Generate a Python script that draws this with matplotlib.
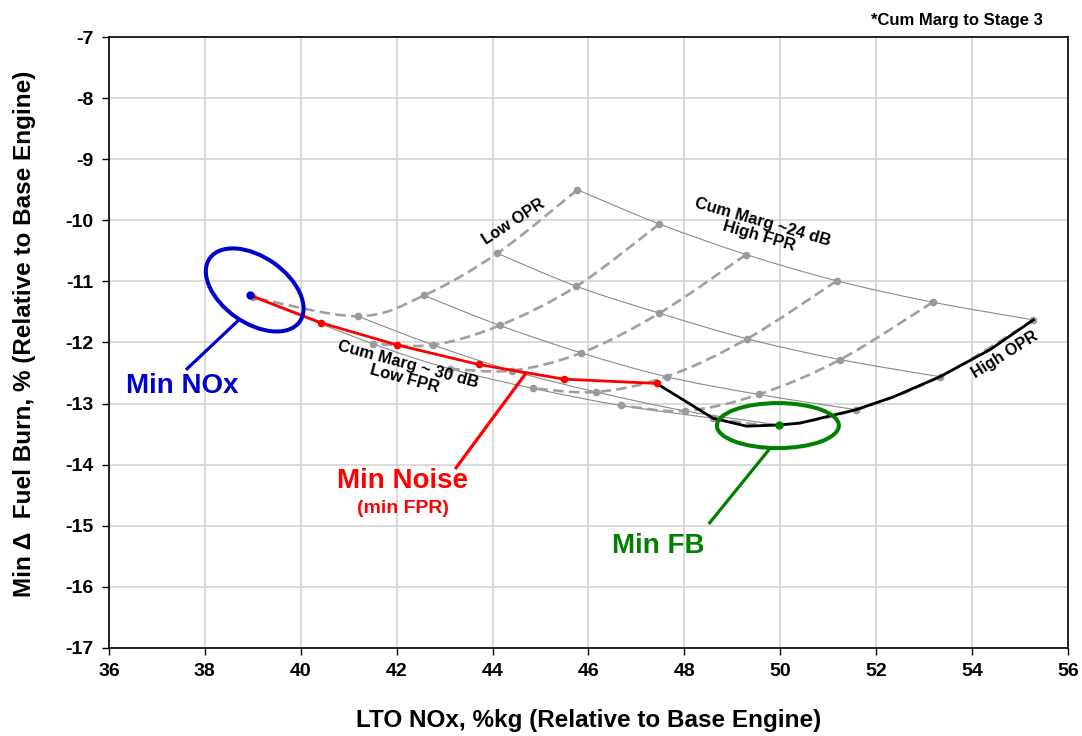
import numpy as np
import matplotlib
matplotlib.use("Agg")
import matplotlib.pyplot as plt
from matplotlib.path import Path
from matplotlib.patches import PathPatch, Ellipse
import matplotlib.transforms as mtransforms

plt.rcParams['font.family'] = ['Liberation Sans', 'DejaVu Sans']
plt.rcParams['font.weight'] = 'bold'
plt.rcParams['axes.unicode_minus'] = False

# carpet grid: rows = FPR level (high -> low), columns = OPR level (low -> high)
nox_grid = [
    [45.77, 47.48, 49.29, 51.18, 53.18, 55.28],
    [44.10, 45.75, 47.48, 49.31, 51.25, 53.33],
    [42.57, 44.15, 45.85, 47.63, 49.55, 51.58],
    [41.19, 42.76, 44.40, 46.16, 48.02, 49.97],
    [39.00, 41.50, 43.11, 44.84, 46.67, 48.60],
]
fb_grid = [
    [-9.50, -10.06, -10.56, -10.99, -11.34, -11.63],
    [-10.54, -11.08, -11.52, -11.94, -12.28, -12.56],
    [-11.23, -11.72, -12.17, -12.56, -12.85, -13.10],
    [-11.57, -12.04, -12.46, -12.81, -13.12, -13.35],
    [-11.26, -12.02, -12.43, -12.75, -13.03, -13.24],
]

# min noise path (red) and min fuel burn path (black)
noise_nox = [38.95, 40.43, 42.01, 43.71, 45.49, 47.42]
noise_fb = [-11.23, -11.68, -12.04, -12.36, -12.60, -12.67]
fb_nox = [47.42, 48.60, 49.30, 49.97, 50.41, 51.58, 52.36, 53.33, 54.37, 55.28]
fb_fb = [-12.67, -13.24, -13.37, -13.35, -13.32, -13.10, -12.89, -12.56, -12.12, -11.63]

min_nox_pt = (38.95, -11.23)
min_fb_pt = (49.97, -13.35)

xticks = np.arange(36, 57, 2)
yticks = np.arange(-17, -6, 1)


def smooth_path(xs, ys):
    pts = np.column_stack([xs, ys])
    n = len(pts)
    verts = [pts[0]]
    codes = [Path.MOVETO]
    for i in range(n - 1):
        p0 = pts[i - 1] if i > 0 else pts[i]
        p1, p2 = pts[i], pts[i + 1]
        p3 = pts[i + 2] if i + 2 < n else pts[i + 1]
        verts += [p1 + (p2 - p0) / 6, p2 - (p3 - p1) / 6, p2]
        codes += [Path.CURVE4] * 3
    return Path(verts, codes)


fig = plt.figure(figsize=(10.82, 7.36), dpi=100)
ax = fig.add_axes([0.1007, 0.1196, 0.8863, 0.8301])
ax.set_xlim(36, 56)
ax.set_ylim(-17, -7)
ax.set_xticks(xticks)
ax.set_yticks(yticks)
ax.grid(True, color='#d4d4d4', lw=1.2)
ax.set_axisbelow(True)
for s in ax.spines.values():
    s.set_color('black')
    s.set_linewidth(1.2)
ax.tick_params(direction='out', length=5, width=1, labelsize=14, pad=6)
for lab in ax.get_xticklabels() + ax.get_yticklabels():
    lab.set_fontweight('bold')

nox = np.array(nox_grid)
fb = np.array(fb_grid)
# constant FPR lines (thin solid)
for i in range(nox.shape[0]):
    ax.add_patch(PathPatch(smooth_path(nox[i], fb[i]), fill=False,
                           edgecolor='#8a8a8a', lw=0.8, zorder=2))
# constant OPR lines (dashed)
for j in range(nox.shape[1]):
    ax.add_patch(PathPatch(smooth_path(nox[:, j], fb[:, j]), fill=False,
                           edgecolor='#a0a0a0', lw=1.9, linestyle=(0, (4, 2)),
                           zorder=2))
ax.plot(nox.ravel(), fb.ravel(), 'o', color='#9a9a9a', ms=5.5, mec='none', zorder=3)

ax.plot(fb_nox, fb_fb, '-', color='black', lw=2.0, zorder=4)
ax.plot(noise_nox, noise_fb, '-', color='red', lw=2.0, zorder=5)
ax.plot(noise_nox[1:], noise_fb[1:], 'o', color='red', ms=5.5, mec='none', zorder=6)
ax.plot(*min_nox_pt, 'o', color='#0000cc', ms=6, mec='none', zorder=7)
ax.plot(*min_fb_pt, 'o', color='#008000', ms=6, mec='none', zorder=7)

# ellipses sized in inches around a data point
def pixel_ellipse(center, w, h, angle, color):
    tr = fig.dpi_scale_trans + mtransforms.ScaledTranslation(center[0], center[1], ax.transData)
    e = Ellipse((0, 0), w, h, angle=angle, fill=False, edgecolor=color, lw=2.9,
                transform=tr, zorder=8, clip_on=False)
    ax.add_patch(e)

pixel_ellipse((39.04, -11.14), 1.10, 0.66, -35, '#0000cc')
pixel_ellipse((49.95, -13.36), 1.22, 0.45, 0, '#008000')

# leaders and callouts
ax.plot([38.67, 37.63], [-11.66, -12.43], color='#0000cc', lw=2.3, zorder=8)
ax.text(37.52, -12.72, 'Min NOx', color='#0000cc', fontsize=20, fontweight='bold',
        ha='center', va='center')
ax.plot([44.68, 43.24], [-12.52, -14.05], color='red', lw=2.3, zorder=8)
ax.text(42.13, -14.27, 'Min Noise', color='red', fontsize=20, fontweight='bold',
        ha='center', va='center')
ax.text(42.13, -14.72, '(min FPR)', color='red', fontsize=14, fontweight='bold',
        ha='center', va='center')
ax.plot([49.79, 48.53], [-13.73, -14.95], color='#008000', lw=2.3, zorder=8)
ax.text(47.45, -15.33, 'Min FB', color='#008000', fontsize=20, fontweight='bold',
        ha='center', va='center')

ax.text(44.43, -10.03, 'Low OPR', fontsize=11.5, fontweight='bold', rotation=33,
        ha='center', va='center', rotation_mode='anchor')
ax.text(49.6, -10.15, 'Cum Marg ~24 dB\nHigh FPR', fontsize=12, fontweight='bold',
        rotation=-16, ha='center', va='center', multialignment='center',
        rotation_mode='anchor', linespacing=0.95)
ax.text(42.2, -12.48, 'Cum Marg ~ 30 dB\nLow FPR', fontsize=12, fontweight='bold',
        rotation=-15, ha='center', va='center', multialignment='center',
        rotation_mode='anchor', linespacing=0.95)
ax.text(54.69, -12.2, 'High OPR', fontsize=11.5, fontweight='bold', rotation=32,
        ha='center', va='center', rotation_mode='anchor')

fig.text(0.8845, 0.972, '*Cum Marg to Stage 3', fontsize=12, fontweight='bold',
         ha='center', va='center')

ax.set_xlabel('LTO NOx, %kg (Relative to Base Engine)', fontsize=17.5,
              fontweight='bold', labelpad=21)
ax.set_ylabel('Min \u0394  Fuel Burn, % (Relative to Base Engine)', fontsize=17.5,
              fontweight='bold')
ax.yaxis.set_label_coords(-0.076, 0.515)

fig.savefig('out.png', dpi=100)
